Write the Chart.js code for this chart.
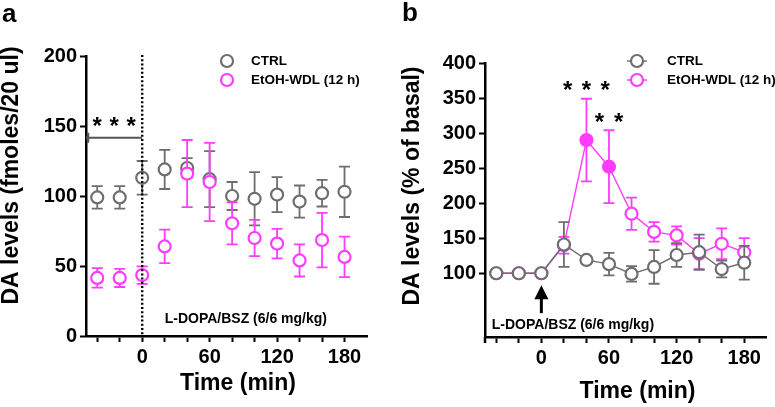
<!DOCTYPE html>
<html>
<head>
<meta charset="utf-8">
<script src="https://cdn.jsdelivr.net/npm/chart.js@4.4.1/dist/chart.umd.min.js"></script>
<style>
  html, body { margin: 0; padding: 0; background: #fff; }
  #wrap { position: relative; width: 775px; height: 407px; overflow: hidden; }
  canvas { position: absolute; top: 0; }
  #chart-a { left: 0; }
  #chart-b { left: 390px; }
</style>
</head>
<body>
<div id="wrap">
  <canvas id="chart-a" width="390" height="407"></canvas>
  <canvas id="chart-b" width="385" height="407"></canvas>
</div>
<script>
/* DA levels after L-DOPA/BSZ, CTRL vs EtOH-WDL (12 h) — two panels */

// ---- data ----
const TIMES     = [-40, -20, 0, 20, 40, 60, 80, 100, 120, 140, 160, 180];
const X_TICKS   = [-40, -20, 0, 20, 40, 60, 80, 100, 120, 140, 160, 180];
const X_LABELS  = [0, 60, 120, 180];
const Y_TICKS_A = [0, 50, 100, 150, 200];
const Y_TICKS_B = [100, 150, 200, 250, 300, 350, 400];

// panel a: fmoles/20 ul, mean and SEM
const CTRL_A     = [99, 99, 113, 119, 120, 112, 100, 98, 101, 96, 102, 103];
const CTRL_A_SEM = [8, 8, 12, 14, 7, 20, 10, 19, 12.5, 11.5, 9.5, 18];
const ETOH_A     = [41.5, 41.5, 43.5, 64, 116, 110, 80.5, 70, 66, 54, 68.5, 56.5];
const ETOH_A_SEM = [7, 6.5, 6.2, 12, 24, 28, 15, 13, 10.5, 11.5, 19.5, 14.5];

// panel b: % of basal, mean and SEM
const CTRL_B     = [100, 100, 100, 141, 119, 113, 99, 109, 126, 130, 106, 115];
const CTRL_B_SEM = [0, 0, 0, 32, 4, 16, 11, 24, 17, 25, 12, 24];
const ETOH_B     = [100, 100, 100, 140, 290, 252, 185, 159, 154, 128, 142, 130];
const ETOH_B_SEM = [0, 0, 0, 12, 59, 52, 23, 14, 13, 22, 22, 20];
const ETOH_B_SIG = [false, false, false, false, true, true, false, false, false, false, false, false];

const NOTE = 'L-DOPA/BSZ (6/6 mg/kg)';

// ---- style ----
const GRAY    = '#6e6e6e';
const MAGENTA = '#ff3cff';
const INK     = '#000';
const FONT    = '"Liberation Sans", Arial, Helvetica, sans-serif';

const pts = (values) => TIMES.map((t, i) => ({ x: t, y: values[i] }));

function pointStyle(color, fills) {
  return {
    pointRadius: 6,
    pointBorderWidth: 2.2,
    pointBorderColor: color,
    pointBackgroundColor: fills || '#fff',
    borderColor: color,
    borderWidth: 1.4,
  };
}

// error bars drawn under each dataset's own markers
const errorBars = {
  id: 'errorBars',
  beforeDatasetDraw(chart, args) {
    const ds = chart.data.datasets[args.index];
    if (!ds.errors) return;
    const ctx = chart.ctx;
    const y = chart.scales.y;
    ctx.save();
    ctx.strokeStyle = ds.pointBorderColor;
    ctx.lineWidth = 1.8;
    args.meta.data.forEach((pt, i) => {
      const e = ds.errors[i];
      if (!e) return;
      const v = ds.data[i].y;
      const top = y.getPixelForValue(v + e);
      const bot = y.getPixelForValue(v - e);
      ctx.beginPath();
      ctx.moveTo(pt.x, top); ctx.lineTo(pt.x, bot);
      ctx.moveTo(pt.x - 5.5, top); ctx.lineTo(pt.x + 5.5, top);
      ctx.moveTo(pt.x - 5.5, bot); ctx.lineTo(pt.x + 5.5, bot);
      ctx.stroke();
    });
    ctx.restore();
  }
};

function bold(size) { return 'bold ' + size + 'px ' + FONT; }

// titles, legend, stars and other marks on top of the plot
function annotations(cfg) {
  return {
    id: 'annot',
    afterDraw(chart) {
      const { ctx, scales: { x, y }, chartArea: area } = chart;
      ctx.save();
      ctx.fillStyle = INK;

      // y axis runs on past the x axis by a tick length
      if (cfg.axisTail) {
        ctx.strokeStyle = INK;
        ctx.lineWidth = 2.5;
        ctx.beginPath();
        ctx.moveTo(area.left, area.bottom);
        ctx.lineTo(area.left, area.bottom + cfg.axisTail);
        ctx.stroke();
      }

      // panel letter
      ctx.font = bold(cfg.label.size);
      ctx.textAlign = 'left';
      ctx.textBaseline = 'alphabetic';
      ctx.fillText(cfg.label.text, cfg.label.x, cfg.label.y);

      // axis titles
      ctx.font = bold(23);
      ctx.textAlign = 'center';
      ctx.textBaseline = 'middle';
      ctx.fillText(cfg.xTitle.text, cfg.xTitle.x, cfg.xTitle.y);
      ctx.save();
      ctx.translate(cfg.yTitle.x, cfg.yTitle.y);
      ctx.rotate(-Math.PI / 2);
      ctx.fillText(cfg.yTitle.text, 0, 0);
      ctx.restore();

      // dotted injection line
      if (cfg.dotted) {
        const px = x.getPixelForValue(cfg.dotted.x);
        ctx.save();
        ctx.strokeStyle = INK;
        ctx.lineWidth = 2.4;
        ctx.setLineDash([2, 2.2]);
        ctx.beginPath();
        ctx.moveTo(px, area.top - 1);
        ctx.lineTo(px, area.bottom);
        ctx.stroke();
        ctx.restore();
      }

      // significance bracket
      if (cfg.bracket) {
        const x1 = x.getPixelForValue(cfg.bracket.from);
        const x2 = x.getPixelForValue(cfg.bracket.to);
        const py = y.getPixelForValue(cfg.bracket.y);
        ctx.save();
        ctx.strokeStyle = '#555';
        ctx.lineWidth = 2;
        ctx.beginPath();
        ctx.moveTo(x1, py); ctx.lineTo(x2, py);
        ctx.stroke();
        ctx.lineWidth = 2.5;
        ctx.beginPath();
        ctx.moveTo(x1 + 2, py - 5); ctx.lineTo(x1 + 2, py + 5);
        ctx.stroke();
        ctx.restore();
      }

      // asterisks
      const starSize = 24;
      ctx.font = bold(starSize);
      ctx.textAlign = 'center';
      ctx.textBaseline = 'alphabetic';
      (cfg.stars || []).forEach(s => {
        const cx = x.getPixelForValue(s.x);
        const cy = y.getPixelForValue(s.y);
        for (let k = 0; k < s.n; k++) {
          const sx = cx + (k - (s.n - 1) / 2) * s.gap;
          ctx.fillText('*', sx, cy + starSize * 0.57);
        }
      });

      // arrow
      if (cfg.arrow) {
        const ax = x.getPixelForValue(cfg.arrow.x);
        const tip = y.getPixelForValue(cfg.arrow.tip);
        const base = y.getPixelForValue(cfg.arrow.base);
        ctx.save();
        ctx.strokeStyle = INK;
        ctx.lineWidth = 3;
        ctx.beginPath();
        ctx.moveTo(ax, tip + 10); ctx.lineTo(ax, base);
        ctx.stroke();
        ctx.beginPath();
        ctx.moveTo(ax, tip);
        ctx.lineTo(ax - 7, tip + 14);
        ctx.lineTo(ax + 7, tip + 14);
        ctx.closePath();
        ctx.fill();
        ctx.restore();
      }

      // treatment note
      if (cfg.note) {
        ctx.font = bold(14);
        ctx.textAlign = 'left';
        ctx.textBaseline = 'middle';
        ctx.fillText(cfg.note.text, x.getPixelForValue(cfg.note.x), y.getPixelForValue(cfg.note.y));
      }

      // legend
      const lg = cfg.legend;
      chart.data.datasets.forEach((ds, i) => {
        const ly = lg.y[i];
        const c = ds.pointBorderColor;
        ctx.strokeStyle = c;
        if (lg.line) {
          ctx.lineWidth = 1.4;
          ctx.beginPath();
          ctx.moveTo(lg.x - 10, ly); ctx.lineTo(lg.x + 10, ly);
          ctx.stroke();
        }
        ctx.fillStyle = '#fff';
        ctx.lineWidth = 2.2;
        ctx.beginPath();
        ctx.arc(lg.x, ly, 6, 0, Math.PI * 2);
        ctx.fill();
        ctx.stroke();
        ctx.fillStyle = INK;
        ctx.font = bold(13.5);
        ctx.textAlign = 'left';
        ctx.textBaseline = 'middle';
        ctx.fillText(ds.label, lg.textX, ly + 0.5);
      });

      ctx.restore();
    }
  };
}

function xScale(height) {
  return {
    type: 'linear', min: -50, max: 200,
    afterBuildTicks: s => { s.ticks = X_TICKS.map(v => ({ value: v })); },
    afterFit: s => { s.height = height; },
    grid: { drawOnChartArea: false, drawTicks: true, tickLength: 6, tickWidth: 2, tickColor: INK },
    border: { color: INK, width: 2.5 },
    ticks: {
      autoSkip: false, maxRotation: 0, padding: 3, color: INK,
      font: { family: FONT, size: 20, weight: 'bold' },
      callback: v => X_LABELS.includes(v) ? String(v) : ''
    }
  };
}

function yScale(min, max, tickList, width) {
  return {
    type: 'linear', min, max,
    afterBuildTicks: s => { s.ticks = tickList.map(v => ({ value: v })); },
    afterFit: s => { s.width = width; },
    grid: { drawOnChartArea: false, drawTicks: true, tickLength: 6, tickWidth: 2, tickColor: INK },
    border: { color: INK, width: 2.5 },
    ticks: { padding: 3, color: INK, font: { family: FONT, size: 20, weight: 'bold' } }
  };
}

function baseOptions(padding, scales) {
  return {
    responsive: false,
    animation: false,
    events: [],
    layout: { padding },
    plugins: { legend: { display: false }, tooltip: { enabled: false } },
    scales
  };
}

/* ============ PANEL A ============ */
new Chart(document.getElementById('chart-a'), {
  type: 'line',
  data: {
    datasets: [
      { label: 'CTRL', data: pts(CTRL_A), errors: CTRL_A_SEM, order: 1, showLine: false, ...pointStyle(GRAY) },
      { label: 'EtOH-WDL (12 h)', data: pts(ETOH_A), errors: ETOH_A_SEM, order: 0, showLine: false, ...pointStyle(MAGENTA) },
    ]
  },
  options: baseOptions({ left: 0, right: 23, top: 56, bottom: 0 },
                       { x: xScale(71), y: yScale(0, 200, Y_TICKS_A, 86) }),
  plugins: [errorBars, annotations({
    label:  { text: 'a', x: 2, y: 22, size: 26 },
    yTitle: { text: 'DA levels (fmoles/20 ul)', x: 11.5, y: 175.5 },
    xTitle: { text: 'Time (min)', x: 238, y: 384 },
    legend: { x: 227, y: [61, 80], textX: 251, line: false },
    dotted: { x: 0 },
    bracket: { from: -50, to: 0, y: 141.6 },
    stars: [{ x: -25, y: 154, n: 3, gap: 17 }],
    note: { text: NOTE, x: 20, y: 12 },
  })]
});

/* ============ PANEL B ============ */
new Chart(document.getElementById('chart-b'), {
  type: 'line',
  data: {
    datasets: [
      { label: 'CTRL', data: pts(CTRL_B), errors: CTRL_B_SEM, order: 0, showLine: true, ...pointStyle(GRAY) },
      { label: 'EtOH-WDL (12 h)', data: pts(ETOH_B), errors: ETOH_B_SEM, order: 1, showLine: true,
        ...pointStyle(MAGENTA, ETOH_B_SIG.map(s => s ? MAGENTA : '#fff')) },
    ]
  },
  options: baseOptions({ left: 0, right: 8, top: 63, bottom: 0 },
                       { x: xScale(70), y: yScale(9, 400, Y_TICKS_B, 95) }),
  plugins: [errorBars, annotations({
    label:  { text: 'b', x: 12, y: 21, size: 26 },
    yTitle: { text: 'DA levels (% of basal)', x: 23, y: 186 },
    xTitle: { text: 'Time (min)', x: 247.5, y: 392 },
    legend: { x: 247, y: [61, 80], textX: 277, line: true },
    axisTail: 6,
    arrow: { x: 0, tip: 83, base: 43 },
    stars: [{ x: 40, y: 370, n: 3, gap: 18.7 }, { x: 60, y: 324, n: 2, gap: 19.3 }],
    note: { text: NOTE, x: -44, y: 26 },
  })]
});
</script>
</body>
</html>
